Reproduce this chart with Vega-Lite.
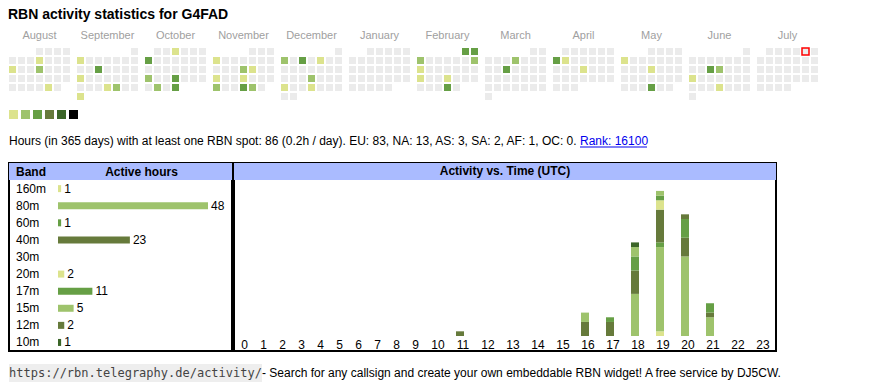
{
"$schema": "https://vega.github.io/schema/vega-lite/v6.json",
"background": "white",
"padding": {"left": 8, "top": 8, "right": 5, "bottom": 0},
"title": {"text": "RBN activity statistics for G4FAD", "anchor": "start", "fontSize": 14, "fontWeight": "bold", "color": "black", "font": "Liberation Sans", "offset": 8},
"config": {"font": "Liberation Sans", "view": {"stroke": null}},
"resolve": {"scale": {"color": "independent"}},
"spacing": 10,
"datasets": {
"days": [
{"d":"2024-08-01","v":0},{"d":"2024-08-02","v":0},{"d":"2024-08-03","v":0},{"d":"2024-08-04","v":0},{"d":"2024-08-05","v":0},{"d":"2024-08-06","v":0},{"d":"2024-08-07","v":0},{"d":"2024-08-08","v":1},{"d":"2024-08-09","v":0},{"d":"2024-08-10","v":0},{"d":"2024-08-11","v":0},{"d":"2024-08-12","v":1},{"d":"2024-08-13","v":0},{"d":"2024-08-14","v":0},{"d":"2024-08-15","v":2},{"d":"2024-08-16","v":0},{"d":"2024-08-17","v":0},{"d":"2024-08-18","v":0},{"d":"2024-08-19","v":0},{"d":"2024-08-20","v":0},{"d":"2024-08-21","v":0},{"d":"2024-08-22","v":0},{"d":"2024-08-23","v":0},{"d":"2024-08-24","v":0},{"d":"2024-08-25","v":0},{"d":"2024-08-26","v":0},{"d":"2024-08-27","v":0},{"d":"2024-08-28","v":0},{"d":"2024-08-29","v":0},{"d":"2024-08-30","v":1},{"d":"2024-08-31","v":0},
{"d":"2024-09-01","v":0},{"d":"2024-09-02","v":1},{"d":"2024-09-03","v":0},{"d":"2024-09-04","v":0},{"d":"2024-09-05","v":0},{"d":"2024-09-06","v":0},{"d":"2024-09-07","v":0},{"d":"2024-09-08","v":0},{"d":"2024-09-09","v":0},{"d":"2024-09-10","v":0},{"d":"2024-09-11","v":3},{"d":"2024-09-12","v":0},{"d":"2024-09-13","v":0},{"d":"2024-09-14","v":0},{"d":"2024-09-15","v":0},{"d":"2024-09-16","v":1},{"d":"2024-09-17","v":0},{"d":"2024-09-18","v":0},{"d":"2024-09-19","v":0},{"d":"2024-09-20","v":0},{"d":"2024-09-21","v":0},{"d":"2024-09-22","v":0},{"d":"2024-09-23","v":0},{"d":"2024-09-24","v":0},{"d":"2024-09-25","v":0},{"d":"2024-09-26","v":1},{"d":"2024-09-27","v":2},{"d":"2024-09-28","v":0},{"d":"2024-09-29","v":0},{"d":"2024-09-30","v":1},
{"d":"2024-10-01","v":0},{"d":"2024-10-02","v":0},{"d":"2024-10-03","v":1},{"d":"2024-10-04","v":0},{"d":"2024-10-05","v":0},{"d":"2024-10-06","v":0},{"d":"2024-10-07","v":3},{"d":"2024-10-08","v":0},{"d":"2024-10-09","v":0},{"d":"2024-10-10","v":0},{"d":"2024-10-11","v":0},{"d":"2024-10-12","v":0},{"d":"2024-10-13","v":0},{"d":"2024-10-14","v":0},{"d":"2024-10-15","v":0},{"d":"2024-10-16","v":0},{"d":"2024-10-17","v":0},{"d":"2024-10-18","v":0},{"d":"2024-10-19","v":0},{"d":"2024-10-20","v":0},{"d":"2024-10-21","v":2},{"d":"2024-10-22","v":0},{"d":"2024-10-23","v":0},{"d":"2024-10-24","v":3},{"d":"2024-10-25","v":0},{"d":"2024-10-26","v":0},{"d":"2024-10-27","v":0},{"d":"2024-10-28","v":0},{"d":"2024-10-29","v":2},{"d":"2024-10-30","v":0},{"d":"2024-10-31","v":3},
{"d":"2024-11-01","v":0},{"d":"2024-11-02","v":0},{"d":"2024-11-03","v":0},{"d":"2024-11-04","v":1},{"d":"2024-11-05","v":0},{"d":"2024-11-06","v":0},{"d":"2024-11-07","v":0},{"d":"2024-11-08","v":0},{"d":"2024-11-09","v":0},{"d":"2024-11-10","v":0},{"d":"2024-11-11","v":0},{"d":"2024-11-12","v":0},{"d":"2024-11-13","v":0},{"d":"2024-11-14","v":2},{"d":"2024-11-15","v":1},{"d":"2024-11-16","v":0},{"d":"2024-11-17","v":0},{"d":"2024-11-18","v":1},{"d":"2024-11-19","v":0},{"d":"2024-11-20","v":0},{"d":"2024-11-21","v":1},{"d":"2024-11-22","v":0},{"d":"2024-11-23","v":0},{"d":"2024-11-24","v":0},{"d":"2024-11-25","v":2},{"d":"2024-11-26","v":0},{"d":"2024-11-27","v":0},{"d":"2024-11-28","v":3},{"d":"2024-11-29","v":2},{"d":"2024-11-30","v":0},
{"d":"2024-12-01","v":0},{"d":"2024-12-02","v":2},{"d":"2024-12-03","v":0},{"d":"2024-12-04","v":3},{"d":"2024-12-05","v":0},{"d":"2024-12-06","v":1},{"d":"2024-12-07","v":0},{"d":"2024-12-08","v":0},{"d":"2024-12-09","v":0},{"d":"2024-12-10","v":0},{"d":"2024-12-11","v":0},{"d":"2024-12-12","v":0},{"d":"2024-12-13","v":0},{"d":"2024-12-14","v":0},{"d":"2024-12-15","v":0},{"d":"2024-12-16","v":0},{"d":"2024-12-17","v":0},{"d":"2024-12-18","v":0},{"d":"2024-12-19","v":2},{"d":"2024-12-20","v":0},{"d":"2024-12-21","v":0},{"d":"2024-12-22","v":0},{"d":"2024-12-23","v":1},{"d":"2024-12-24","v":0},{"d":"2024-12-25","v":0},{"d":"2024-12-26","v":1},{"d":"2024-12-27","v":0},{"d":"2024-12-28","v":0},{"d":"2024-12-29","v":0},{"d":"2024-12-30","v":0},{"d":"2024-12-31","v":0},
{"d":"2025-01-01","v":0},{"d":"2025-01-02","v":0},{"d":"2025-01-03","v":0},{"d":"2025-01-04","v":0},{"d":"2025-01-05","v":0},{"d":"2025-01-06","v":0},{"d":"2025-01-07","v":0},{"d":"2025-01-08","v":0},{"d":"2025-01-09","v":0},{"d":"2025-01-10","v":0},{"d":"2025-01-11","v":0},{"d":"2025-01-12","v":0},{"d":"2025-01-13","v":0},{"d":"2025-01-14","v":0},{"d":"2025-01-15","v":0},{"d":"2025-01-16","v":0},{"d":"2025-01-17","v":0},{"d":"2025-01-18","v":0},{"d":"2025-01-19","v":0},{"d":"2025-01-20","v":0},{"d":"2025-01-21","v":0},{"d":"2025-01-22","v":0},{"d":"2025-01-23","v":0},{"d":"2025-01-24","v":0},{"d":"2025-01-25","v":0},{"d":"2025-01-26","v":0},{"d":"2025-01-27","v":0},{"d":"2025-01-28","v":0},{"d":"2025-01-29","v":0},{"d":"2025-01-30","v":0},{"d":"2025-01-31","v":0},
{"d":"2025-02-01","v":3},{"d":"2025-02-02","v":3},{"d":"2025-02-03","v":2},{"d":"2025-02-04","v":0},{"d":"2025-02-05","v":0},{"d":"2025-02-06","v":0},{"d":"2025-02-07","v":0},{"d":"2025-02-08","v":0},{"d":"2025-02-09","v":2},{"d":"2025-02-10","v":1},{"d":"2025-02-11","v":0},{"d":"2025-02-12","v":0},{"d":"2025-02-13","v":0},{"d":"2025-02-14","v":0},{"d":"2025-02-15","v":0},{"d":"2025-02-16","v":0},{"d":"2025-02-17","v":1},{"d":"2025-02-18","v":0},{"d":"2025-02-19","v":0},{"d":"2025-02-20","v":1},{"d":"2025-02-21","v":0},{"d":"2025-02-22","v":0},{"d":"2025-02-23","v":0},{"d":"2025-02-24","v":0},{"d":"2025-02-25","v":0},{"d":"2025-02-26","v":0},{"d":"2025-02-27","v":3},{"d":"2025-02-28","v":0},
{"d":"2025-03-01","v":0},{"d":"2025-03-02","v":0},{"d":"2025-03-03","v":0},{"d":"2025-03-04","v":0},{"d":"2025-03-05","v":0},{"d":"2025-03-06","v":2},{"d":"2025-03-07","v":0},{"d":"2025-03-08","v":0},{"d":"2025-03-09","v":0},{"d":"2025-03-10","v":0},{"d":"2025-03-11","v":0},{"d":"2025-03-12","v":3},{"d":"2025-03-13","v":0},{"d":"2025-03-14","v":0},{"d":"2025-03-15","v":0},{"d":"2025-03-16","v":0},{"d":"2025-03-17","v":0},{"d":"2025-03-18","v":0},{"d":"2025-03-19","v":0},{"d":"2025-03-20","v":0},{"d":"2025-03-21","v":0},{"d":"2025-03-22","v":0},{"d":"2025-03-23","v":0},{"d":"2025-03-24","v":0},{"d":"2025-03-25","v":0},{"d":"2025-03-26","v":0},{"d":"2025-03-27","v":0},{"d":"2025-03-28","v":0},{"d":"2025-03-29","v":0},{"d":"2025-03-30","v":0},{"d":"2025-03-31","v":0},
{"d":"2025-04-01","v":0},{"d":"2025-04-02","v":0},{"d":"2025-04-03","v":0},{"d":"2025-04-04","v":0},{"d":"2025-04-05","v":0},{"d":"2025-04-06","v":0},{"d":"2025-04-07","v":3},{"d":"2025-04-08","v":1},{"d":"2025-04-09","v":0},{"d":"2025-04-10","v":0},{"d":"2025-04-11","v":0},{"d":"2025-04-12","v":0},{"d":"2025-04-13","v":0},{"d":"2025-04-14","v":0},{"d":"2025-04-15","v":0},{"d":"2025-04-16","v":0},{"d":"2025-04-17","v":1},{"d":"2025-04-18","v":0},{"d":"2025-04-19","v":0},{"d":"2025-04-20","v":0},{"d":"2025-04-21","v":0},{"d":"2025-04-22","v":0},{"d":"2025-04-23","v":0},{"d":"2025-04-24","v":0},{"d":"2025-04-25","v":0},{"d":"2025-04-26","v":0},{"d":"2025-04-27","v":0},{"d":"2025-04-28","v":0},{"d":"2025-04-29","v":0},{"d":"2025-04-30","v":0},
{"d":"2025-05-01","v":0},{"d":"2025-05-02","v":0},{"d":"2025-05-03","v":0},{"d":"2025-05-04","v":0},{"d":"2025-05-05","v":1},{"d":"2025-05-06","v":0},{"d":"2025-05-07","v":0},{"d":"2025-05-08","v":0},{"d":"2025-05-09","v":0},{"d":"2025-05-10","v":0},{"d":"2025-05-11","v":0},{"d":"2025-05-12","v":0},{"d":"2025-05-13","v":0},{"d":"2025-05-14","v":0},{"d":"2025-05-15","v":1},{"d":"2025-05-16","v":0},{"d":"2025-05-17","v":0},{"d":"2025-05-18","v":0},{"d":"2025-05-19","v":0},{"d":"2025-05-20","v":0},{"d":"2025-05-21","v":0},{"d":"2025-05-22","v":0},{"d":"2025-05-23","v":0},{"d":"2025-05-24","v":0},{"d":"2025-05-25","v":0},{"d":"2025-05-26","v":0},{"d":"2025-05-27","v":0},{"d":"2025-05-28","v":0},{"d":"2025-05-29","v":3},{"d":"2025-05-30","v":0},{"d":"2025-05-31","v":0},
{"d":"2025-06-01","v":0},{"d":"2025-06-02","v":0},{"d":"2025-06-03","v":0},{"d":"2025-06-04","v":0},{"d":"2025-06-05","v":0},{"d":"2025-06-06","v":0},{"d":"2025-06-07","v":0},{"d":"2025-06-08","v":0},{"d":"2025-06-09","v":0},{"d":"2025-06-10","v":0},{"d":"2025-06-11","v":3},{"d":"2025-06-12","v":2},{"d":"2025-06-13","v":0},{"d":"2025-06-14","v":0},{"d":"2025-06-15","v":0},{"d":"2025-06-16","v":1},{"d":"2025-06-17","v":0},{"d":"2025-06-18","v":0},{"d":"2025-06-19","v":0},{"d":"2025-06-20","v":0},{"d":"2025-06-21","v":0},{"d":"2025-06-22","v":0},{"d":"2025-06-23","v":0},{"d":"2025-06-24","v":0},{"d":"2025-06-25","v":0},{"d":"2025-06-26","v":1},{"d":"2025-06-27","v":0},{"d":"2025-06-28","v":0},{"d":"2025-06-29","v":0},{"d":"2025-06-30","v":0},
{"d":"2025-07-01","v":0},{"d":"2025-07-02","v":0},{"d":"2025-07-03","v":0},{"d":"2025-07-04","v":0},{"d":"2025-07-05","v":0},{"d":"2025-07-06","v":0},{"d":"2025-07-07","v":0},{"d":"2025-07-08","v":0},{"d":"2025-07-09","v":0},{"d":"2025-07-10","v":0},{"d":"2025-07-11","v":0},{"d":"2025-07-12","v":0},{"d":"2025-07-13","v":0},{"d":"2025-07-14","v":0},{"d":"2025-07-15","v":0},{"d":"2025-07-16","v":0},{"d":"2025-07-17","v":0},{"d":"2025-07-18","v":0},{"d":"2025-07-19","v":0},{"d":"2025-07-20","v":0},{"d":"2025-07-21","v":0},{"d":"2025-07-22","v":0},{"d":"2025-07-23","v":0},{"d":"2025-07-24","v":0},{"d":"2025-07-25","v":0},{"d":"2025-07-26","v":0},{"d":"2025-07-27","v":0},{"d":"2025-07-28","v":0},{"d":"2025-07-29","v":0},{"d":"2025-07-30","v":0},{"d":"2025-07-31","v":0}
],
"bands": [
{"band":"160m","h":1},{"band":"80m","h":48},{"band":"60m","h":1},{"band":"40m","h":23},{"band":"30m","h":0},{"band":"20m","h":2},{"band":"17m","h":11},{"band":"15m","h":5},{"band":"12m","h":2},{"band":"10m","h":1}
],
"act": [
{"hour":11,"band":"12m","n":1},
{"hour":16,"band":"40m","n":3},{"hour":16,"band":"15m","n":2},
{"hour":17,"band":"40m","n":3},{"hour":17,"band":"17m","n":1},
{"hour":18,"band":"80m","n":9},{"hour":18,"band":"40m","n":5},{"hour":18,"band":"17m","n":3},{"hour":18,"band":"15m","n":2},{"hour":18,"band":"10m","n":1},
{"hour":19,"band":"160m","n":1},{"hour":19,"band":"80m","n":18},{"hour":19,"band":"60m","n":1},{"hour":19,"band":"40m","n":7},{"hour":19,"band":"20m","n":2},{"hour":19,"band":"17m","n":1},{"hour":19,"band":"15m","n":1},
{"hour":20,"band":"80m","n":17},{"hour":20,"band":"40m","n":4},{"hour":20,"band":"17m","n":4},{"hour":20,"band":"12m","n":1},
{"hour":21,"band":"80m","n":4},{"hour":21,"band":"40m","n":1},{"hour":21,"band":"17m","n":2}
]
},
"vconcat": [
{
"data": {"name": "days"},
"transform": [
{"calculate": "toDate(datum.d)", "as": "t"},
{"calculate": "(utcyear(datum.t) - 2024) * 12 + utcmonth(datum.t) - 7", "as": "m"},
{"calculate": "(utcday(datum.t) + 6) % 7", "as": "wd"},
{"calculate": "floor((utcdate(datum.t) - 1 + (utcday(utc(utcyear(datum.t), utcmonth(datum.t), 1)) + 6) % 7) / 7)", "as": "wk"}
],
"facet": {"column": {"field": "m", "type": "ordinal", "title": null, "header": {"labelExpr": "['August','September','October','November','December','January','February','March','April','May','June','July'][datum.value]", "labelFontSize": 11, "labelColor": "#a0a0a0", "labelFont": "Liberation Sans", "labelPadding": 6}}},
"spacing": 7,
"spec": {
"width": 61, "height": 52,
"mark": {"type": "rect", "stroke": "#ff0000"},
"encoding": {
"x": {"field": "wd", "type": "ordinal", "scale": {"domain": [0,1,2,3,4,5,6], "paddingInner": 0.2222, "paddingOuter": 0}, "axis": null},
"y": {"field": "wk", "type": "ordinal", "scale": {"domain": [0,1,2,3,4,5], "paddingInner": 0.2222, "paddingOuter": 0}, "axis": null},
"color": {"field": "v", "type": "ordinal", "scale": {"domain": [0,1,2,3,4,5,6], "range": ["#ebebeb","#dce38d","#9ec36c","#669f45","#667a3b","#3b6528","#000000"]}, "legend": null},
"strokeWidth": {"condition": {"test": "datum.d === '2025-07-05'", "value": 1.5}, "value": 0}
}
}
},
{
"data": {"values": [{"lvl":1},{"lvl":2},{"lvl":3},{"lvl":4},{"lvl":5},{"lvl":6}]},
"width": 69, "height": 9,
"mark": "rect",
"encoding": {
"x": {"field": "lvl", "type": "ordinal", "scale": {"paddingInner": 0.25, "paddingOuter": 0}, "axis": null},
"color": {"field": "lvl", "type": "ordinal", "scale": {"domain": [0,1,2,3,4,5,6], "range": ["#ebebeb","#dce38d","#9ec36c","#669f45","#667a3b","#3b6528","#000000"]}, "legend": null}
}
},
{
"hconcat": [
{
"data": {"values": [{"t": "Hours (in 365 days) with at least one RBN spot: 86 (0.2h / day). EU: 83, NA: 13, AS: 3, SA: 2, AF: 1, OC: 0."}]},
"width": 570, "height": 23,
"mark": {"type": "text", "fontSize": 12, "color": "black", "align": "left", "baseline": "middle", "font": "Liberation Sans"},
"encoding": {"text": {"field": "t"}, "x": {"datum": 0, "type": "quantitative", "scale": {"domain": [0, 1]}, "axis": null}}
},
{
"width": 67, "height": 23,
"data": {"values": [{"t": "Rank: 16100"}]},
"layer": [
{
"mark": {"type": "text", "fontSize": 12, "color": "#0000ee", "align": "left", "baseline": "middle", "font": "Liberation Sans"},
"encoding": {"text": {"field": "t"}, "x": {"datum": 0, "type": "quantitative", "scale": {"domain": [0, 1]}, "axis": null}}
},
{
"mark": {"type": "rule", "color": "#0000ee", "strokeWidth": 1},
"encoding": {"y": {"value": 18}, "x": {"datum": 0, "type": "quantitative", "axis": null}, "x2": {"datum": 1}}
}
]
}
],
"spacing": 0
},
{
"vconcat": [
{
"hconcat": [
{
"width": 223, "height": 188,
"view": {"stroke": "black", "strokeWidth": 2},
"layer": [
{
"data": {"values": [{"t": "Active hours"}]},
"mark": {"type": "rect", "color": "#aabbff"},
"encoding": {"y": {"datum": "Band", "type": "nominal", "axis": null}, "x": {"datum": -15.68, "type": "quantitative", "axis": null}, "x2": {"datum": 55.68}}
},
{
"data": {"values": [{"t": "Active hours"}]},
"mark": {"type": "text", "fontSize": 12, "fontWeight": "bold", "color": "black", "font": "Liberation Sans"},
"encoding": {"y": {"datum": "Band", "type": "nominal", "axis": null}, "x": {"datum": 26.72, "type": "quantitative", "axis": null}, "text": {"field": "t"}}
},
{
"data": {"values": [{"t": "Band"}]},
"mark": {"type": "text", "fontSize": 12, "fontWeight": "bold", "color": "black", "align": "left", "font": "Liberation Sans"},
"encoding": {"y": {"datum": "Band", "type": "nominal", "axis": null}, "x": {"datum": -13.44, "type": "quantitative", "axis": null}, "text": {"field": "t"}}
},
{
"data": {"name": "bands"},
"mark": {"type": "text", "fontSize": 12, "color": "black", "align": "left", "font": "Liberation Sans"},
"encoding": {"y": {"field": "band", "type": "nominal", "axis": null}, "x": {"datum": -13.44, "type": "quantitative", "axis": null}, "text": {"field": "band"}}
},
{
"data": {"name": "bands"},
"mark": {"type": "bar", "height": 7},
"encoding": {
"y": {"field": "band", "type": "nominal", "scale": {"domain": ["Band","160m","80m","60m","40m","30m","20m","17m","15m","12m","10m"], "paddingInner": 0, "paddingOuter": 0}, "axis": null},
"x": {"field": "h", "type": "quantitative", "scale": {"domain": [-15.68, 55.68], "nice": false, "zero": false, "padding": 0}, "axis": null},
"color": {"field": "band", "type": "nominal", "scale": {"domain": ["160m","80m","60m","40m","30m","20m","17m","15m","12m","10m"], "range": ["#dce38d","#9ec36c","#669f45","#667a3b","#3b6528","#dce38d","#669f45","#9ec36c","#667a3b","#3b6528"]}, "legend": null}
}
},
{
"data": {"name": "bands"},
"transform": [{"filter": "datum.h > 0"}],
"mark": {"type": "text", "align": "left", "dx": 3, "fontSize": 12, "color": "black", "font": "Liberation Sans"},
"encoding": {
"y": {"field": "band", "type": "nominal", "axis": null},
"x": {"field": "h", "type": "quantitative", "axis": null},
"text": {"field": "h"}
}
}
]
},
{
"width": 542, "height": 188,
"view": {"stroke": "black", "strokeWidth": 2},
"layer": [
{
"data": {"values": [{"t": "Activity vs. Time (UTC)"}]},
"mark": {"type": "rect", "color": "#aabbff"},
"encoding": {"y": {"datum": 33.33, "type": "quantitative", "axis": null}, "y2": {"datum": 36.966}}
},
{
"data": {"values": [{"t": "Activity vs. Time (UTC)"}]},
"mark": {"type": "text", "fontSize": 12, "fontWeight": "bold", "color": "black", "font": "Liberation Sans"},
"encoding": {"y": {"datum": 35.15, "type": "quantitative", "axis": null}, "text": {"field": "t"}}
},
{
"data": {"name": "act"},
"transform": [{"calculate": "indexof(['160m','80m','60m','40m','30m','20m','17m','15m','12m','10m'], datum.band)", "as": "i"}],
"mark": {"type": "bar", "width": 8, "orient": "vertical"},
"encoding": {
"x": {"field": "hour", "type": "quantitative", "scale": {"type": "linear", "domain": [0, 9, 10, 23], "range": [7.5, 178.5, 201, 526], "nice": false, "zero": false, "padding": 0}, "axis": {"orient": "bottom", "values": [0,1,2,3,4,5,6,7,8,9,10,11,12,13,14,15,16,17,18,19,20,21,22,23], "offset": -15, "domain": false, "ticks": false, "grid": false, "labelPadding": 3, "labelOffset": 2.5, "labelFontSize": 12, "labelColor": "black", "labelFont": "Liberation Sans", "labelFlush": false, "labelOverlap": false, "labelBound": false, "title": null, "format": "d"}},
"y": {"field": "n", "type": "quantitative", "stack": "zero", "scale": {"domain": [-3.205, 36.966], "nice": false, "zero": false}, "axis": null},
"color": {"field": "band", "type": "nominal", "scale": {"domain": ["160m","80m","60m","40m","30m","20m","17m","15m","12m","10m"], "range": ["#dce38d","#9ec36c","#669f45","#667a3b","#3b6528","#dce38d","#669f45","#9ec36c","#667a3b","#3b6528"]}, "legend": null},
"order": {"field": "i", "type": "quantitative"}
}
}
]
}
],
"spacing": 0
},
{
"hconcat": [
{
"data": {"values": [{"t": "https://rbn.telegraphy.de/activity/"}]},
"width": 253, "height": 18,
"view": {"fill": "#eeeeee"},
"mark": {"type": "text", "font": "DejaVu Sans Mono", "fontSize": 12, "color": "#444444", "align": "center", "baseline": "middle"},
"encoding": {"text": {"field": "t"}}
},
{
"data": {"values": [{"t": " - Search for any callsign and create your own embeddable RBN widget! A free service by DJ5CW."}]},
"width": 524, "height": 18,
"mark": {"type": "text", "font": "Liberation Sans", "fontSize": 12, "color": "black", "align": "left", "baseline": "middle"},
"encoding": {"text": {"field": "t"}, "x": {"datum": 0, "type": "quantitative", "scale": {"domain": [0, 1]}, "axis": null}}
}
],
"spacing": 0
}
],
"spacing": 12
}
]
}
